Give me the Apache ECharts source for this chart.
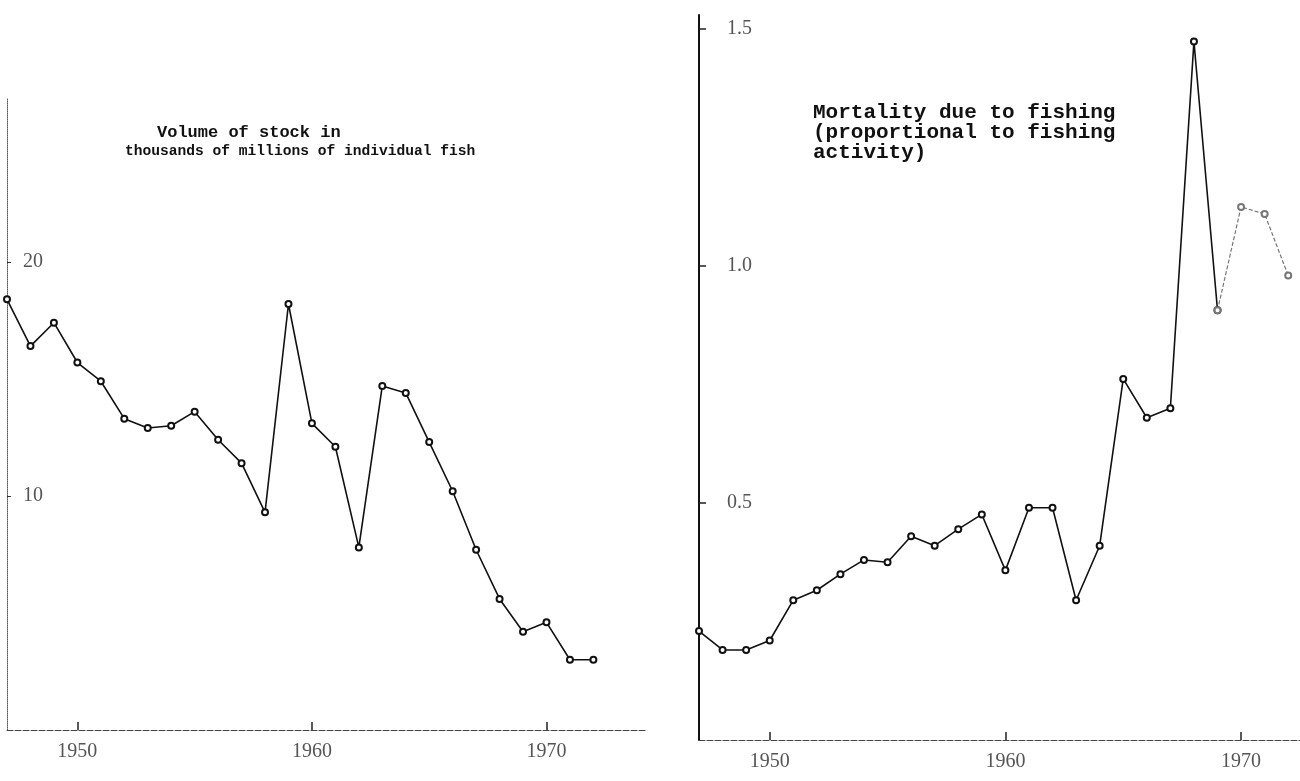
<!DOCTYPE html>
<html>
<head>
<meta charset="utf-8">
<script src="https://cdn.jsdelivr.net/npm/echarts@6/dist/echarts.min.js"></script>
<style>
  html, body { margin: 0; padding: 0; background: #fff; }
  #chart { width: 1300px; height: 781px; }
</style>
</head>
<body>
<div id="chart"></div>
<script>
// years shared by both panels
var years = [1947, 1948, 1949, 1950, 1951, 1952, 1953, 1954, 1955, 1956, 1957, 1958, 1959,
             1960, 1961, 1962, 1963, 1964, 1965, 1966, 1967, 1968, 1969, 1970, 1971, 1972];

// left panel: volume of stock (thousands of millions of fish)
var stockVolume = [18.4, 16.4, 17.4, 15.7, 14.9, 13.3, 12.9, 13.0, 13.6, 12.4, 11.4, 9.3, 18.2,
                   13.1, 12.1, 7.8, 14.7, 14.4, 12.3, 10.2, 7.7, 5.6, 4.2, 4.6, 3.0, 3.0];

// right panel: fishing mortality
var mortality = [0.23, 0.19, 0.19, 0.21, 0.295, 0.316, 0.35, 0.38, 0.375, 0.43, 0.41, 0.445, 0.476,
                 0.358, 0.49, 0.49, 0.295, 0.41, 0.762, 0.68, 0.70, 1.474, 0.907, 1.125, 1.11, 0.98];

var yearTicks = [1950, 1960, 1970];
var stockTicks = [10, 20];
var mortalityTicks = [0.5, 1.0, 1.5];

var leftTitle = ['Volume of stock in', 'thousands of millions of individual fish'];
var rightTitle = ['Mortality due to fishing', '(proportional to fishing', 'activity)'];

function pairs(vals) {
    return years.map(function (y, i) { return [y, vals[i]]; });
}

// the faded tail of the mortality curve (print got light there)
var fadeFrom = 1969;
var mortMain = pairs(mortality).filter(function (p) { return p[0] <= fadeFrom; });
var mortTail = pairs(mortality).filter(function (p) { return p[0] >= fadeFrom; });

var labelFont = { fontFamily: 'Liberation Serif', fontSize: 20, color: '#555' };
var titleFont = { fontFamily: 'Liberation Mono', fontWeight: 'bold', color: '#111' };

var chart = echarts.init(document.getElementById('chart'));

var option = {
    backgroundColor: '#fff',
    animation: false,
    title: [
        {
            text: leftTitle[0],
            left: 152, top: 119,
            textStyle: Object.assign({ fontSize: 17 }, titleFont)
        },
        {
            text: leftTitle[1],
            left: 120, top: 139,
            textStyle: Object.assign({ fontSize: 14.6 }, titleFont)
        },
        {
            text: rightTitle.join('\n'),
            left: 808, top: 98,
            textStyle: Object.assign({ fontSize: 21, lineHeight: 20 }, titleFont)
        }
    ],
    grid: [
        { left: 7, right: 655, top: 98, bottom: 51 },
        { left: 699, right: 0, top: 15, bottom: 41 }
    ],
    xAxis: [
        {
            gridIndex: 0, type: 'value', min: 1947, max: 1974.2,
            splitLine: { show: false },
            axisLine: { lineStyle: { color: '#444', width: 1, type: [6, 2] } },
            axisTick: { inside: true, length: 8, customValues: yearTicks, lineStyle: { color: '#222', width: 1.5 } },
            axisLabel: Object.assign({ customValues: yearTicks, margin: 12, formatter: function (v) { return String(v); } }, labelFont)
        },
        {
            gridIndex: 1, type: 'value', min: 1947, max: 1972.5,
            splitLine: { show: false },
            axisLine: { lineStyle: { color: '#444', width: 1, type: [6, 2] } },
            axisTick: { inside: true, length: 8, customValues: yearTicks, lineStyle: { color: '#222', width: 1.5 } },
            axisLabel: Object.assign({ customValues: yearTicks, margin: 12, formatter: function (v) { return String(v); } }, labelFont)
        }
    ],
    yAxis: [
        {
            gridIndex: 0, type: 'value', min: 0, max: 27,
            splitLine: { show: false },
            axisLine: { show: true, lineStyle: { color: '#555', width: 1, type: 'dotted' } },
            axisTick: { inside: true, length: 4, customValues: stockTicks, lineStyle: { color: '#333' } },
            axisLabel: Object.assign({ inside: true, margin: 16, customValues: stockTicks }, labelFont)
        },
        {
            gridIndex: 1, type: 'value', min: 0, max: 1.53,
            splitLine: { show: false },
            axisLine: { show: true, lineStyle: { color: '#111', width: 2 } },
            axisTick: { inside: true, length: 7, customValues: mortalityTicks, lineStyle: { color: '#222', width: 1.5 } },
            axisLabel: Object.assign({
                inside: true, margin: 28, customValues: mortalityTicks,
                formatter: function (v) { return v.toFixed(1); }
            }, labelFont)
        }
    ],
    series: [
        {
            type: 'line', xAxisIndex: 0, yAxisIndex: 0,
            data: pairs(stockVolume),
            symbol: 'emptyCircle', symbolSize: 6,
            lineStyle: { color: '#111', width: 1.6 },
            itemStyle: { color: '#111', borderWidth: 1 }
        },
        {
            type: 'line', xAxisIndex: 1, yAxisIndex: 1,
            data: mortMain,
            symbol: 'emptyCircle', symbolSize: 6,
            lineStyle: { color: '#111', width: 1.6 },
            itemStyle: { color: '#111', borderWidth: 1 }
        },
        {
            type: 'line', xAxisIndex: 1, yAxisIndex: 1,
            data: mortTail,
            symbol: 'emptyCircle', symbolSize: 6,
            lineStyle: { color: '#777', width: 1.2, type: [4, 2] },
            itemStyle: { color: '#777', borderWidth: 1 }
        }
    ]
};

chart.setOption(option);
</script>
</body>
</html>
